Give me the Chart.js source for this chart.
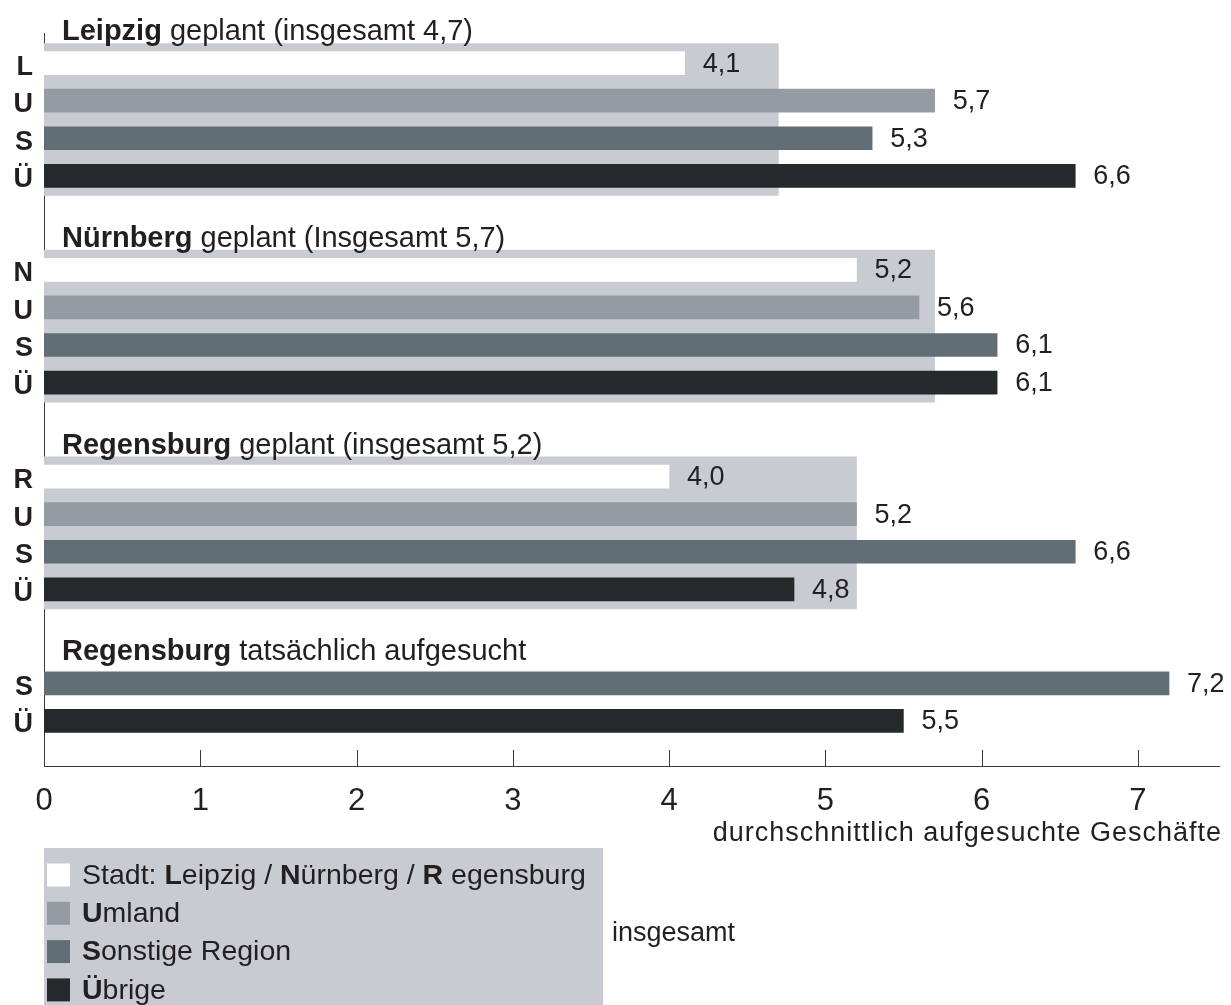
<!DOCTYPE html>
<html lang="de">
<head>
<meta charset="utf-8">
<title>Durchschnittlich aufgesuchte Geschäfte</title>
<script src="https://cdn.jsdelivr.net/npm/chart.js@4/dist/chart.umd.min.js"></script>
<style>
  html, body { margin: 0; padding: 0; background: #fff; }
  canvas { display: block; }
</style>
</head>
<body>
<canvas id="shops" width="1231" height="1005"></canvas>
<script>
// Geplante und tatsächlich aufgesuchte Geschäfte nach Herkunft der Besucher
const groupCities = ['Leipzig', 'Nürnberg', 'Regensburg', 'Regensburg'];
const groupNotes = [' geplant (insgesamt 4,7)', ' geplant (Insgesamt 5,7)', ' geplant (insgesamt 5,2)', ' tatsächlich aufgesucht'];
const cityLetters = ['L', 'N', 'R'];
const insgesamt = [4.7, 5.7, 5.2];
const stadt = [4.1, 5.2, 4.0];
const umland = [5.7, 5.6, 5.2];
const sonstige = [5.3, 6.1, 6.6, 7.2];
const uebrige = [6.6, 6.1, 4.8, 5.5];
const xTicks = [0, 1, 2, 3, 4, 5, 6, 7];
const xTitle = 'durchschnittlich aufgesuchte Geschäfte';

const FONT = "'Liberation Sans', Arial, Helvetica, sans-serif";
const INK = '#231f20';
const COLORS = { stadt: '#ffffff', umland: '#959ba2', sonstige: '#626e76', uebrige: '#24292c', total: '#c8cbd2' };

// row layout on the y scale: one unit per bar, 1.5 units between groups
const ROW_GAP = 1.5;
const groupRows = [];   // per group: series index -> row position
const rowTicks = [];    // { pos, letter }
let pos = 1;
groupCities.forEach((city, g) => {
  const series = g < cityLetters.length ? [0, 1, 2, 3] : [2, 3];
  const map = {};
  series.forEach(s => {
    map[s] = pos;
    rowTicks.push({ pos, letter: [cityLetters[g], 'U', 'S', 'Ü'][s] });
    pos += 1;
  });
  groupRows.push(map);
  pos += ROW_GAP;
});

const pts = (vals, s) => vals.map((v, g) => ({ x: v, y: groupRows[g][s] }));
const totalPts = insgesamt.map((v, g) => ({ x: v, y: (groupRows[g][0] + groupRows[g][3]) / 2 }));

const barBase = { grouped: false, barThickness: 23, borderWidth: 0, order: 0 };
const datasets = [
  { ...barBase, label: 'Stadt', data: pts(stadt, 0), backgroundColor: COLORS.stadt },
  { ...barBase, label: 'Umland', data: pts(umland, 1), backgroundColor: COLORS.umland },
  { ...barBase, label: 'Sonstige Region', data: pts(sonstige, 2), backgroundColor: COLORS.sonstige },
  { ...barBase, label: 'Übrige', data: pts(uebrige, 3), backgroundColor: COLORS.uebrige },
  { ...barBase, label: 'insgesamt', data: totalPts, backgroundColor: COLORS.total, barThickness: 152, order: 10, noLabel: true },
];

const fmt = v => v.toFixed(1).replace('.', ',');

// draws a line of text made of [text, bold] runs
function drawRuns(ctx, x, y, runs, size) {
  let cx = x;
  for (const [text, bold] of runs) {
    ctx.font = (bold ? 'bold ' : '') + size + 'px ' + FONT;
    ctx.fillText(text, cx, y);
    cx += ctx.measureText(text).width;
  }
  return cx;
}

const decorations = {
  id: 'decorations',
  afterDatasetsDraw(chart) {
    const { ctx, chartArea, scales } = chart;
    ctx.save();
    // value labels to the right of each bar
    ctx.fillStyle = INK;
    ctx.font = '27px ' + FONT;
    ctx.textBaseline = 'middle';
    ctx.textAlign = 'left';
    chart.data.datasets.forEach((ds, i) => {
      if (ds.noLabel) return;
      chart.getDatasetMeta(i).data.forEach((el, j) => {
        ctx.fillText(fmt(ds.data[j].x), el.x + 18, el.y + 1);
      });
    });
    // group headings
    ctx.textBaseline = 'alphabetic';
    groupCities.forEach((city, g) => {
      const first = Math.min(...Object.values(groupRows[g]));
      const y = scales.y.getPixelForValue(first) - 23;
      drawRuns(ctx, 62, y, [[city, true], [groupNotes[g], false]], 29);
    });
    // short tick marks standing on the x axis
    ctx.strokeStyle = '#3a3a3a';
    ctx.lineWidth = 1;
    xTicks.forEach(t => {
      const x = Math.round(scales.x.getPixelForValue(t)) + 0.5;
      ctx.beginPath();
      ctx.moveTo(x, chartArea.bottom - 16);
      ctx.lineTo(x, chartArea.bottom);
      ctx.stroke();
    });
    ctx.restore();
  },
  afterDraw(chart) {
    const { ctx, chartArea } = chart;
    ctx.save();
    ctx.fillStyle = INK;
    // axis title, right aligned under the axis
    ctx.font = '27px ' + FONT;
    ctx.letterSpacing = '1px';
    ctx.textAlign = 'right';
    ctx.textBaseline = 'middle';
    ctx.fillText(xTitle, 1222, chartArea.bottom + 68);
    ctx.letterSpacing = '0px';

    // legend panel
    const lx = 44, ly = 848, lw = 559, lh = 160;
    ctx.fillStyle = COLORS.total;
    ctx.fillRect(lx, ly, lw, lh);
    const items = [
      [COLORS.stadt, [['Stadt: ', false], ['L', true], ['eipzig / ', false], ['N', true], ['ürnberg / ', false], ['R', true], [' egensburg', false]]],
      [COLORS.umland, [['U', true], ['mland', false]]],
      [COLORS.sonstige, [['S', true], ['onstige Region', false]]],
      [COLORS.uebrige, [['Ü', true], ['brige', false]]],
    ];
    ctx.textAlign = 'left';
    ctx.textBaseline = 'middle';
    items.forEach(([color, runs], i) => {
      const cy = 875 + i * 38.3;
      ctx.fillStyle = color;
      ctx.fillRect(47, cy - 11.5, 23, 23);
      ctx.fillStyle = INK;
      drawRuns(ctx, 82, cy + 1, runs, 28.5);
    });
    ctx.font = '27px ' + FONT;
    ctx.fillText('insgesamt', 612, 934);
    ctx.restore();
  }
};

new Chart(document.getElementById('shops'), {
  type: 'bar',
  data: { datasets },
  options: {
    indexAxis: 'y',
    responsive: false,
    animation: false,
    devicePixelRatio: 1,
    layout: { padding: { top: 33, right: 12, left: 0, bottom: 0 } },
    plugins: { legend: { display: false }, tooltip: { enabled: false } },
    scales: {
      x: {
        type: 'linear',
        min: 0,
        max: 7.52,
        offset: false,
        afterBuildTicks: axis => { axis.ticks = xTicks.map(v => ({ value: v })); },
        afterFit: axis => { axis.height = 239; },
        grid: { display: false, drawTicks: false },
        border: { display: true, color: '#3a3a3a', width: 1 },
        ticks: { color: INK, padding: 17, font: { family: FONT, size: 31 }, maxRotation: 0 }
      },
      y: {
        type: 'linear',
        reverse: true,
        offset: false,
        min: 0.2,
        max: 19.7,
        afterBuildTicks: axis => { axis.ticks = rowTicks.map(r => ({ value: r.pos })); },
        afterFit: axis => { axis.width = 44; },
        grid: { display: false, drawTicks: false, offset: false },
        border: { display: true, color: '#3a3a3a', width: 1 },
        ticks: {
          color: INK,
          padding: 11,
          labelOffset: 4,
          font: { family: FONT, size: 27, weight: 'bold' },
          callback: (v, i) => rowTicks[i].letter
        }
      }
    }
  },
  plugins: [decorations]
});
</script>
</body>
</html>
